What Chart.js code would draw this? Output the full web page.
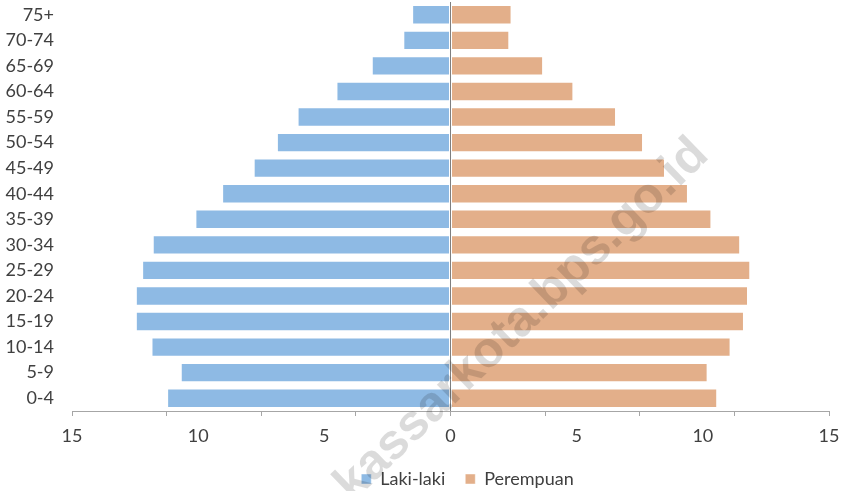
<!DOCTYPE html>
<html>
<head>
<meta charset="utf-8">
<title>Piramida Penduduk</title>
<script src="https://cdn.jsdelivr.net/npm/chart.js@4.4.0/dist/chart.umd.min.js"></script>
<style>
  body { margin: 0; background: #fff; }
</style>
</head>
<body>
<canvas id="myChart" width="845" height="491"></canvas>
<script>
'use strict';

// age groups, top of the pyramid first
let ageGroups = ['75+', '70-74', '65-69', '60-64', '55-59', '50-54', '45-49', '40-44',
  '35-39', '30-34', '25-29', '20-24', '15-19', '10-14', '5-9', '0-4'];
let lakiLaki = [1.52, 1.87, 3.12, 4.52, 6.06, 6.88, 7.80, 9.05,
  10.11, 11.80, 12.22, 12.47, 12.47, 11.85, 10.69, 11.23];
let perempuan = [2.42, 2.33, 3.67, 4.87, 6.56, 7.63, 8.50, 9.41,
  10.34, 11.48, 11.88, 11.79, 11.63, 11.10, 10.19, 10.57];
let xTickValues = [-15, -10, -5, 0, 5, 10, 15];
let axisMin = -15;
let axisMax = 15;

let textColor = '#404040';
let lineColor = '#a6a6a6';
let legendShift = 17; // excel puts the legend a bit right of center

// males go to the left side
let lakiLakiLeft = lakiLaki.map(v => -v);

// diagonal watermark like on the source picture
let watermark = {
  id: 'watermark',
  afterLayout(chart) {
    chart.legend.left += legendShift;
    chart.legend.right += legendShift;
  },
  afterDraw(chart) {
    let c = chart.ctx;
    c.save();
    c.translate(522, 320);
    c.rotate(-44 * Math.PI / 180);
    c.font = 'bold 50px "Liberation Sans", Arial, sans-serif';
    c.fillStyle = 'rgba(0,0,0,0.14)';
    c.textAlign = 'center';
    c.textBaseline = 'middle';
    c.fillText('kassarkota.bps.go.id', 0, 0);
    c.restore();
  }
};

Chart.defaults.font.family = 'Lato, "Open Sans", sans-serif';
Chart.defaults.font.size = 18;
Chart.defaults.color = textColor;

var ctx = document.getElementById('myChart').getContext('2d');
var myChart = new Chart(ctx, {
  type: 'bar',
  data: {
    labels: ageGroups,
    datasets: [{
      label: 'Laki-laki',
      data: lakiLakiLeft,
      backgroundColor: '#8ebae4',
      borderColor: 'rgba(255,255,255,0.45)',
      borderWidth: 1,
      borderSkipped: false
    },
    {
      label: 'Perempuan',
      data: perempuan,
      backgroundColor: '#e3af8a',
      borderColor: 'rgba(255,255,255,0.45)',
      borderWidth: 1,
      borderSkipped: false
    }]
  },
  options: {
    indexAxis: 'y',
    responsive: false,
    animation: false,
    layout: { padding: { top: 2, right: 16, left: 4, bottom: -7 } },
    categoryPercentage: 1,
    barPercentage: 0.76,
    scales: {
      y: {
        stacked: true,
        grid: { display: false, drawTicks: false },
        border: { display: false },
        ticks: { padding: 18, autoSkip: false },
        afterFit: function (scale) {
          scale.width = 68;
          scale.paddingTop = 0;
          scale.paddingBottom = 0;
        }
      },
      // only the small tick marks under the axis line
      xMarks: {
        type: 'linear',
        axis: 'x',
        position: 'bottom',
        weight: 0,
        min: axisMin,
        max: axisMax,
        ticks: { display: false, stepSize: 3.75 },
        grid: { drawOnChartArea: false, color: lineColor, tickLength: 5 },
        border: { display: true, color: lineColor },
        afterFit: function (scale) {
          scale.paddingLeft = 0;
          scale.paddingRight = 0;
        }
      },
      x: {
        stacked: true,
        weight: 1,
        min: axisMin,
        max: axisMax,
        afterBuildTicks: function (axis) {
          axis.ticks = xTickValues.map(v => ({ value: v }));
        },
        ticks: {
          padding: 9,
          maxRotation: 0,
          callback: function (value) { return Math.abs(value); }
        },
        grid: {
          drawTicks: false,
          color: function (c) { return c.tick && c.tick.value === 0 ? '#7f7f7f' : 'transparent'; }
        },
        border: { display: false },
        afterFit: function (scale) {
          scale.height = 34;
          scale.paddingLeft = 0;
          scale.paddingRight = 0;
        }
      }
    },
    plugins: {
      tooltip: { enabled: false },
      legend: {
        position: 'bottom',
        fullSize: false,
        labels: {
          boxWidth: 10,
          boxHeight: 10,
          padding: 20
        }
      }
    }
  },
  plugins: [watermark]
});
</script>
</body>
</html>
